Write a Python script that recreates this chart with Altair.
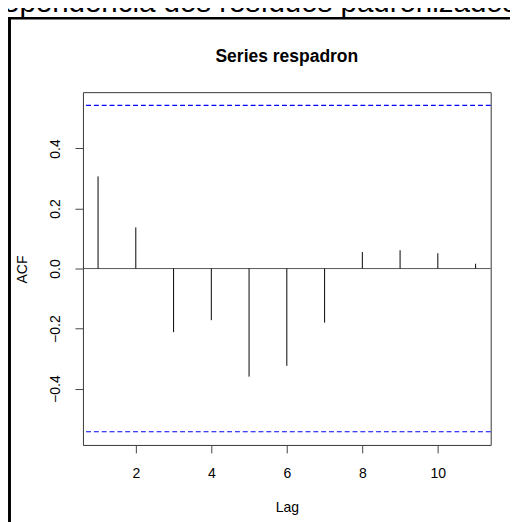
import altair as alt
import pandas as pd

lags = [1, 2, 3, 4, 5, 6, 7, 8, 9, 10, 11]
acf_vals = [0.307, 0.137, -0.212, -0.172, -0.360, -0.324, -0.180, 0.055, 0.061, 0.051, 0.016]
ci_vals = [0.5436, -0.5436]
x_ticks = [2, 4, 6, 8, 10]
y_ticks = [-0.4, -0.2, 0.0, 0.2, 0.4]
main_title = "Series respadron"
page_title = "Independência dos resíduos padronizados"

FONT = "Liberation Sans"
K = 1.02  # layout scale factor


def s(v):
    return v * K


W, H = s(408), s(353)
PAD_L, PAD_T = s(75), s(79)
PAD_R = 518 * K - 16 - PAD_L - W
PAD_B = 522 * K - 16 - PAD_T - H

df = pd.DataFrame({"lag": lags, "acf": acf_vals})
ci_df = pd.DataFrame({"ci": ci_vals})

xs = alt.Scale(domain=[0.6, 11.4], nice=False, zero=False)
ys = alt.Scale(domain=[-0.5876, 0.5876], nice=False, zero=False)

x_axis = alt.Axis(values=x_ticks, title="Lag", grid=False, domain=False,
                  tickSize=s(8), tickColor="#444", labelFontSize=s(14), labelFont=FONT,
                  labelColor="#000", labelBaseline="alphabetic", labelPadding=s(24.5),
                  titleFont=FONT, titleFontSize=s(14), titleFontWeight="normal",
                  titleColor="#000", titleBaseline="alphabetic", titleX=s(204), titleY=s(67),
                  titleAnchor="middle", titleAlign="center", format="d")
y_axis = alt.Axis(values=y_ticks, title="ACF", grid=False, domain=False,
                  tickSize=s(8), tickColor="#444", labelFontSize=s(14), labelFont=FONT,
                  labelColor="#000", labelAngle=270, labelAlign="center",
                  labelBaseline="alphabetic", labelPadding=s(15.5), format=".1f",
                  titleFont=FONT, titleFontSize=s(14), titleFontWeight="normal",
                  titleColor="#000", titleAngle=270, titleBaseline="alphabetic",
                  titleAlign="center", titleX=s(-56), titleY=s(177))

bars = alt.Chart(df).mark_rule(color="#000", strokeWidth=1).encode(
    x=alt.X("lag:Q", scale=xs, axis=x_axis),
    y=alt.Y("acf:Q", scale=ys, axis=y_axis),
    y2=alt.datum(0),
)

zero = alt.Chart(df).transform_filter("datum.lag == 1").transform_calculate(
    z="0").mark_rule(color="#555", strokeWidth=1).encode(
    y=alt.Y("z:Q", scale=ys),
)

ci = alt.Chart(ci_df).mark_rule(color="#0000ff", strokeWidth=1.1, strokeDash=[5, 3]).encode(
    y=alt.Y("ci:Q", scale=ys),
)

title_text = alt.Chart(df).transform_filter("datum.lag == 1").mark_text(
    text=main_title, font=FONT, fontSize=s(17.5), fontWeight="bold", color="#000",
    align="center", baseline="alphabetic",
).encode(x=alt.value(W / 2), y=alt.value(s(-29.7)))

page_text = alt.Chart(df).transform_filter("datum.lag == 1").mark_text(
    text=page_title, font=FONT, fontSize=s(29.5), color="#000",
    align="left", baseline="alphabetic",
).encode(x=alt.value(s(-121)), y=alt.value(s(-80)))

frame_left = alt.Chart(df).transform_filter("datum.lag == 1").mark_rule(
    color="#000", strokeWidth=3).encode(
    x=alt.value(s(-73.5)), y=alt.value(s(-74)), y2=alt.value(s(440)))
frame_top = alt.Chart(df).transform_filter("datum.lag == 1").mark_rule(
    color="#000", strokeWidth=2.5).encode(
    x=alt.value(s(-75)), x2=alt.value(s(440)), y=alt.value(s(-74)))

chart = alt.layer(ci, zero, bars, title_text, page_text, frame_left, frame_top).properties(
    width=W, height=H,
    autosize=alt.AutoSizeParams(type="none"),
    padding={"left": PAD_L, "top": PAD_T, "right": PAD_R, "bottom": PAD_B},
    background="#ffffff",
).configure_view(stroke="#333", strokeWidth=1)

chart.save("out.html", embed_options={"renderer": "svg", "actions": False})
